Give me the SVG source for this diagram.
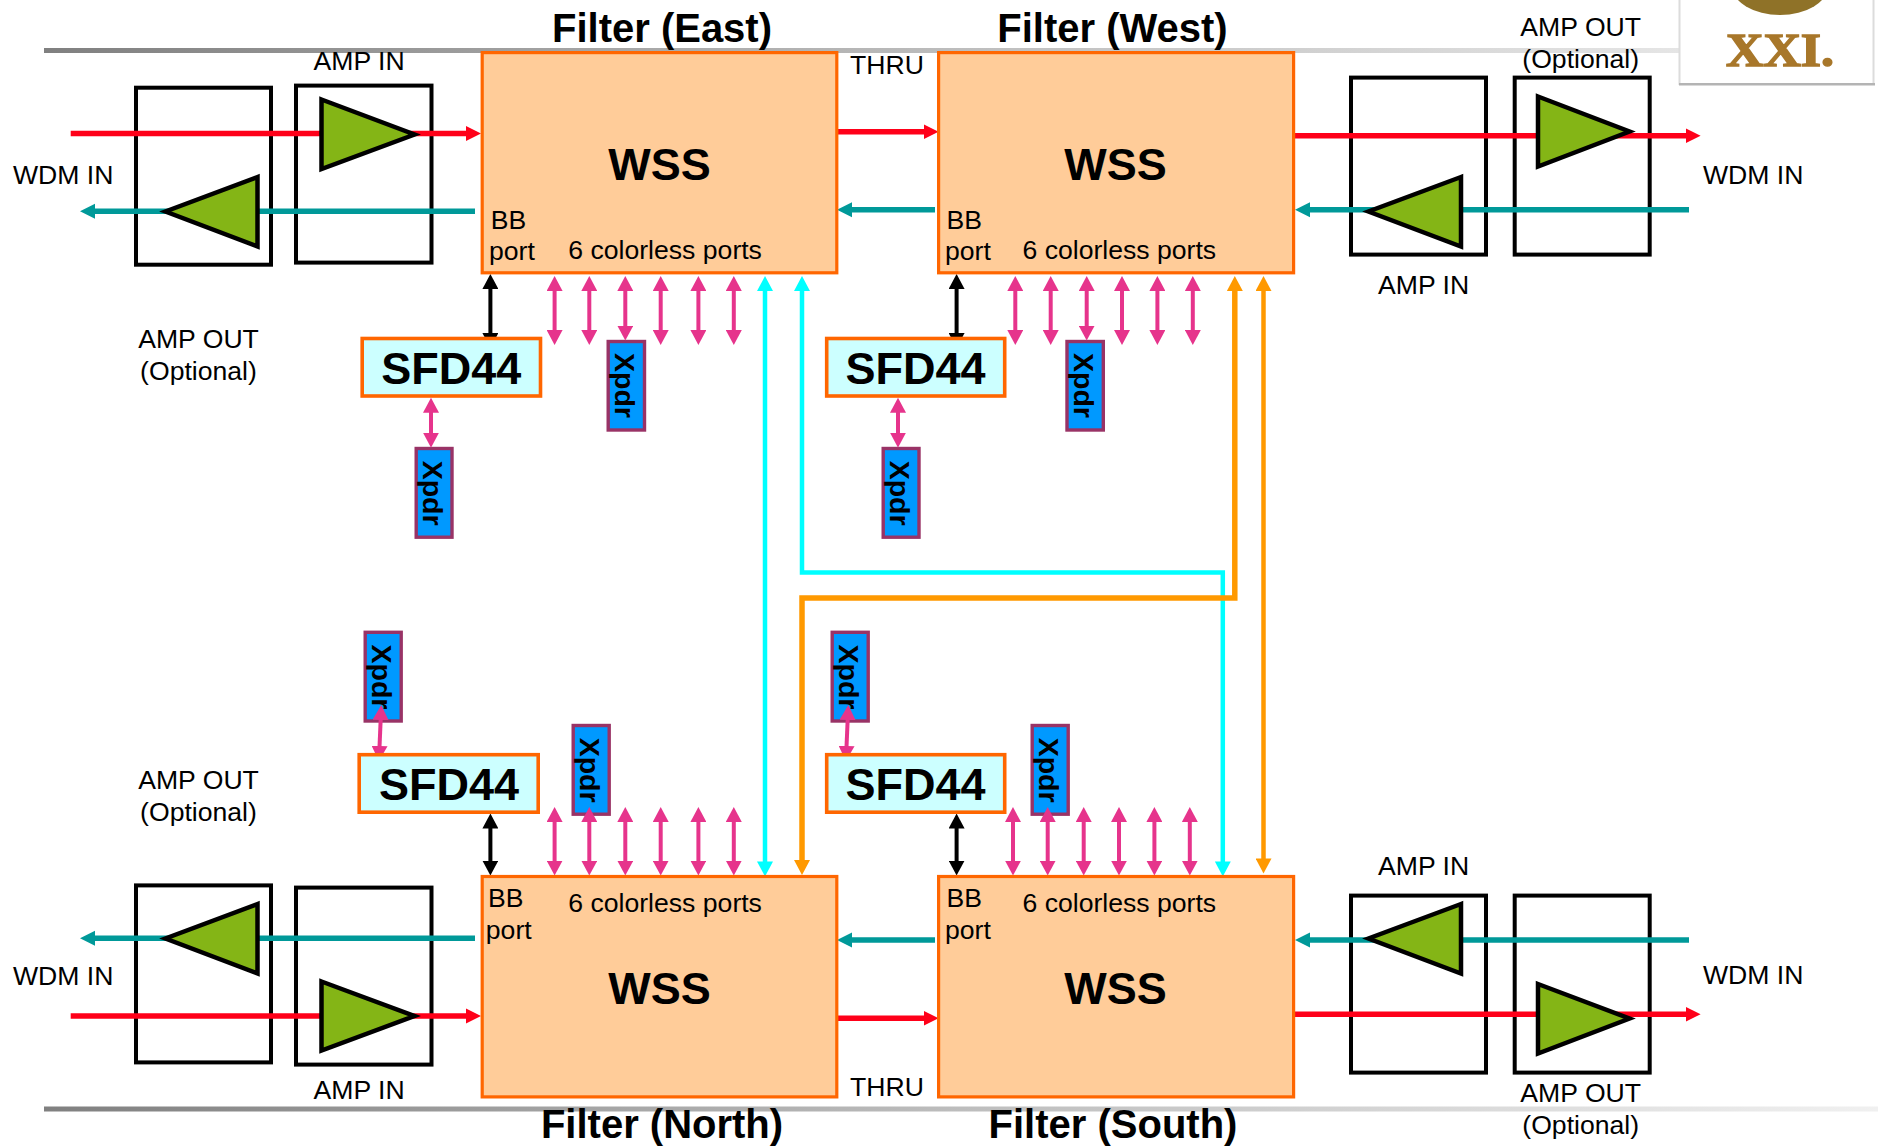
<svg xmlns="http://www.w3.org/2000/svg" width="1878" height="1146" viewBox="0 0 1878 1146">
<style>
text{font-family:"Liberation Sans",Arial,sans-serif;fill:#000}
.lbl{font-size:26.6px}
.mid{text-anchor:middle}
.ttl{font-size:40px;font-weight:bold;text-anchor:middle}
.big{font-size:45px;font-weight:bold;text-anchor:middle}
.xp{font-size:28.5px;font-weight:bold}
.wss{fill:#ffcc99;stroke:#ff6600;stroke-width:3.2}
.sfd{fill:#ccffff;stroke:#ff6600;stroke-width:3.6}
.xbox{fill:#0099ff;stroke:#993366;stroke-width:3.4}
.amp{fill:none;stroke:#000;stroke-width:4}
.tri{fill:#84b516;stroke:#000;stroke-width:4.5}
.red{stroke:#ff0019;stroke-width:5.5;marker-end:url(#mRed)}
.teal{stroke:#009999;stroke-width:5.5;marker-end:url(#mTeal)}
.pink{stroke:#e6348c;stroke-width:4;marker-start:url(#mPink);marker-end:url(#mPink)}
.blk{stroke:#000;stroke-width:4;marker-start:url(#mBlk);marker-end:url(#mBlk)}
.cy{stroke:#00ffff;stroke-width:4.5;marker-start:url(#mCy);marker-end:url(#mCy)}
.or{stroke:#ff9900;stroke-width:4.5;marker-start:url(#mOr);marker-end:url(#mOr)}
</style>
<defs>
<linearGradient id="bar" gradientUnits="userSpaceOnUse" x1="44" y1="0" x2="1878" y2="0"><stop offset="0" stop-color="#808080"/><stop offset="0.5" stop-color="#bdbdbd"/><stop offset="1" stop-color="#f0f0f0"/></linearGradient>
<marker id="mRed" markerUnits="userSpaceOnUse" markerWidth="16" markerHeight="16" refX="1" refY="8" orient="auto-start-reverse"><path d="M0,0.5L15,8L0,15.5z" fill="#ff0019"/></marker>
<marker id="mTeal" markerUnits="userSpaceOnUse" markerWidth="16" markerHeight="16" refX="1" refY="8" orient="auto-start-reverse"><path d="M0,0.5L15,8L0,15.5z" fill="#009999"/></marker>
<marker id="mPink" markerUnits="userSpaceOnUse" markerWidth="16" markerHeight="16" refX="1" refY="8" orient="auto-start-reverse"><path d="M0,0L15,8L0,16z" fill="#e6348c"/></marker>
<marker id="mBlk" markerUnits="userSpaceOnUse" markerWidth="16" markerHeight="16" refX="1" refY="8" orient="auto-start-reverse"><path d="M0,0L15,8L0,16z" fill="#000"/></marker>
<marker id="mCy" markerUnits="userSpaceOnUse" markerWidth="16" markerHeight="16" refX="1" refY="8" orient="auto-start-reverse"><path d="M0,0L15,8L0,16z" fill="#00ffff"/></marker>
<marker id="mOr" markerUnits="userSpaceOnUse" markerWidth="16" markerHeight="16" refX="1" refY="8" orient="auto-start-reverse"><path d="M0,0L15,8L0,16z" fill="#ff9900"/></marker>
</defs>
<rect width="1878" height="1146" fill="#fff"/>
<g id="bars">
<rect x="44" y="48" width="1640" height="5" fill="url(#bar)"/>
<rect x="44" y="1106.5" width="1834" height="5" fill="url(#bar)"/>
</g>
<g id="logo">
<rect x="1679.5" y="-4" width="194" height="88" fill="#fff" stroke="#dcdcdc" stroke-width="2"/>
<rect x="1679" y="83" width="196" height="2.5" fill="#b4b4b4"/>
<ellipse cx="1780" cy="-14" rx="48" ry="29" fill="#8f7228"/>
<text x="1726" y="66" textLength="108" lengthAdjust="spacingAndGlyphs" style="font-family:'Liberation Serif',serif;font-size:46px;font-weight:bold;fill:#a8772a;stroke:#a8772a;stroke-width:1.5">XXI.</text>
</g>
<g id="amp-boxes">
<rect id="amp-e1" class="amp" x="136" y="87.7" width="135" height="177"/>
<rect id="amp-e2" class="amp" x="296" y="85.6" width="135.5" height="177"/>
<rect id="amp-w1" class="amp" x="1351" y="77.6" width="135" height="177"/>
<rect id="amp-w2" class="amp" x="1514.7" y="77.6" width="135" height="177"/>
<rect id="amp-n1" class="amp" x="136" y="885.4" width="135" height="177"/>
<rect id="amp-n2" class="amp" x="296" y="887.6" width="135.5" height="177"/>
<rect id="amp-s1" class="amp" x="1351" y="895.6" width="135" height="177"/>
<rect id="amp-s2" class="amp" x="1514.7" y="895.6" width="135" height="177"/>
</g>
<g id="xpdr-e1"><rect class="xbox" x="416.2" y="448.5" width="35.8" height="88.7"/><text class="xp" transform="translate(423.3,460.7) rotate(90)">Xpdr</text></g>
<g id="xpdr-e2"><rect class="xbox" x="608.2" y="341.5" width="36.3" height="88.5"/><text class="xp" transform="translate(615,353) rotate(90)">Xpdr</text></g>
<g id="xpdr-w1"><rect class="xbox" x="883.2" y="448.5" width="35.8" height="88.7"/><text class="xp" transform="translate(890.3,460.7) rotate(90)">Xpdr</text></g>
<g id="xpdr-w2"><rect class="xbox" x="1067" y="341.5" width="36.3" height="88.5"/><text class="xp" transform="translate(1073.8,353) rotate(90)">Xpdr</text></g>
<g id="xpdr-n1"><rect class="xbox" x="365.2" y="632.3" width="36" height="88.7"/><text class="xp" transform="translate(372.3,644.5) rotate(90)">Xpdr</text></g>
<g id="xpdr-n2"><rect class="xbox" x="573.2" y="725.5" width="36" height="88.7"/><text class="xp" transform="translate(580.3,737.7) rotate(90)">Xpdr</text></g>
<g id="xpdr-s1"><rect class="xbox" x="832.2" y="632.3" width="36" height="88.7"/><text class="xp" transform="translate(839.3,644.5) rotate(90)">Xpdr</text></g>
<g id="xpdr-s2"><rect class="xbox" x="1032.2" y="725.5" width="36" height="88.7"/><text class="xp" transform="translate(1039.3,737.7) rotate(90)">Xpdr</text></g>
<g id="connectors" fill="none">
<path class="red" d="M70.7,133.6H467"/><path class="red" d="M837,131.8H924.5"/><path class="red" d="M1294,135.8H1686.6"/>
<path class="red" d="M70.7,1016H467"/><path class="red" d="M837,1018.2H924.5"/><path class="red" d="M1294,1014.2H1686.6"/>
<path class="teal" d="M475,211.3H94"/><path class="teal" d="M935,209.7H851"/><path class="teal" d="M1689,209.7H1309"/>
<path class="teal" d="M475,938.2H94"/><path class="teal" d="M935,940H851"/><path class="teal" d="M1689,940H1309"/>
<path class="pink" d="M554.6,290V331"/><path class="pink" d="M589.3,290V331"/><path class="pink" d="M625.3,290V326.6"/><path class="pink" d="M660.7,290V331"/><path class="pink" d="M698.4,290V331"/><path class="pink" d="M733.8,290V331"/>
<path class="pink" d="M1015.3,290V331"/><path class="pink" d="M1050.7,290V331"/><path class="pink" d="M1086.7,290V326.6"/><path class="pink" d="M1122,290V331"/><path class="pink" d="M1157.4,290V331"/><path class="pink" d="M1192.8,290V331"/>
<path class="pink" d="M554.6,821V861.6"/><path class="pink" d="M589.3,821V861.6"/><path class="pink" d="M625.3,821V861.6"/><path class="pink" d="M660.7,821V861.6"/><path class="pink" d="M698.4,821V861.6"/><path class="pink" d="M733.8,821V861.6"/>
<path class="pink" d="M1013,821V861.6"/><path class="pink" d="M1047.7,821V861.6"/><path class="pink" d="M1083.7,821V861.6"/><path class="pink" d="M1119,821V861.6"/><path class="pink" d="M1154.4,821V861.6"/><path class="pink" d="M1189.8,821V861.6"/>
<path class="pink" d="M431,411.7V433.7"/><path class="pink" d="M898,411.7V433.7"/>
<path class="pink" d="M380.7,719L379.5,747"/><path class="pink" d="M847.7,719L846.5,747"/>
<path class="blk" d="M490.4,288V334"/><path class="blk" d="M956.6,288V334"/>
<path class="blk" d="M490.4,827.5V861.6"/><path class="blk" d="M956.6,827.5V861.6"/>
<path class="cy" d="M765,290V862.4"/>
<path class="cy" d="M802,290V572.5H1222.8V862.4"/>
<path class="or" style="stroke-width:5.5" d="M1234.8,290V597.9H802V861"/>
<path class="or" d="M1263.5,290V859.4"/>
</g>
<g id="wss-east"><rect class="wss" x="482.2" y="52.6" width="354.6" height="220.2"/><text class="big" x="659.5" y="180">WSS</text><text class="lbl" x="490.7" y="228.6">BB</text><text class="lbl" x="489" y="260.4">port</text><text class="lbl" x="568.3" y="258.6">6 colorless ports</text></g>
<g id="wss-west"><rect class="wss" x="938.6" y="52.6" width="355" height="220.2"/><text class="big" x="1115.5" y="180">WSS</text><text class="lbl" x="946.6" y="228.6">BB</text><text class="lbl" x="945" y="260.4">port</text><text class="lbl" x="1022.5" y="258.6">6 colorless ports</text></g>
<g id="wss-north"><rect class="wss" x="482.2" y="876.5" width="354.6" height="220.4"/><text class="big" x="659.5" y="1003.5">WSS</text><text class="lbl" x="488" y="906.9">BB</text><text class="lbl" x="485.8" y="938.7">port</text><text class="lbl" x="568.3" y="912">6 colorless ports</text></g>
<g id="wss-south"><rect class="wss" x="938.6" y="876.5" width="355" height="220.4"/><text class="big" x="1115.5" y="1003.5">WSS</text><text class="lbl" x="946.6" y="906.9">BB</text><text class="lbl" x="945" y="938.7">port</text><text class="lbl" x="1022.5" y="912">6 colorless ports</text></g>
<g id="sfd-east"><rect class="sfd" x="362.2" y="338.5" width="178.3" height="57.5"/><text class="big" x="451.3" y="384">SFD44</text></g>
<g id="sfd-west"><rect class="sfd" x="826.7" y="338.5" width="178" height="57.5"/><text class="big" x="915.5" y="384">SFD44</text></g>
<g id="sfd-north"><rect class="sfd" x="359.2" y="754.7" width="179" height="57.5"/><text class="big" x="449" y="800">SFD44</text></g>
<g id="sfd-south"><rect class="sfd" x="826.7" y="754.7" width="178" height="57.5"/><text class="big" x="915.5" y="800">SFD44</text></g>
<g id="amplifiers">
<polygon class="tri" points="321.5,99.5 414.5,134.5 321.5,169"/>
<polygon class="tri" points="257.5,177 165.5,211.5 257.5,246.5"/>
<polygon class="tri" points="1538,96.5 1629.5,131.5 1538,166.5"/>
<polygon class="tri" points="1461,177 1368.5,211.5 1461,246.5"/>
<polygon class="tri" points="257.5,904 165.5,938.5 257.5,973.5"/>
<polygon class="tri" points="321.5,981.5 414.5,1016 321.5,1050.5"/>
<polygon class="tri" points="1461,904 1368.5,938.5 1461,973.5"/>
<polygon class="tri" points="1538,984 1629.5,1018.5 1538,1053.5"/>
</g>
<g id="labels">
<text class="ttl" x="662" y="42">Filter (East)</text>
<text class="ttl" x="1112.5" y="42">Filter (West)</text>
<text class="ttl" x="662" y="1138">Filter (North)</text>
<text class="ttl" x="1113" y="1138">Filter (South)</text>
<text class="lbl" x="13" y="183.8">WDM IN</text>
<text class="lbl" x="1703" y="183.8">WDM IN</text>
<text class="lbl" x="13" y="984.8">WDM IN</text>
<text class="lbl" x="1703" y="984.3">WDM IN</text>
<text class="lbl" x="313.5" y="69.8">AMP IN</text>
<text class="lbl" x="1378" y="293.9">AMP IN</text>
<text class="lbl" x="313.5" y="1098.5">AMP IN</text>
<text class="lbl" x="1378" y="875">AMP IN</text>
<text class="lbl" x="850" y="73.8">THRU</text>
<text class="lbl" x="850" y="1095.5">THRU</text>
<text class="lbl mid" x="198.5" y="347.6">AMP OUT</text>
<text class="lbl mid" x="198.5" y="379.6">(Optional)</text>
<text class="lbl mid" x="198.5" y="789">AMP OUT</text>
<text class="lbl mid" x="198.5" y="821.2">(Optional)</text>
<text class="lbl mid" x="1580.7" y="35.8">AMP OUT</text>
<text class="lbl mid" x="1580.7" y="67.8">(Optional)</text>
<text class="lbl mid" x="1580.7" y="1101.5">AMP OUT</text>
<text class="lbl mid" x="1580.7" y="1133.5">(Optional)</text>
</g>
</svg>
